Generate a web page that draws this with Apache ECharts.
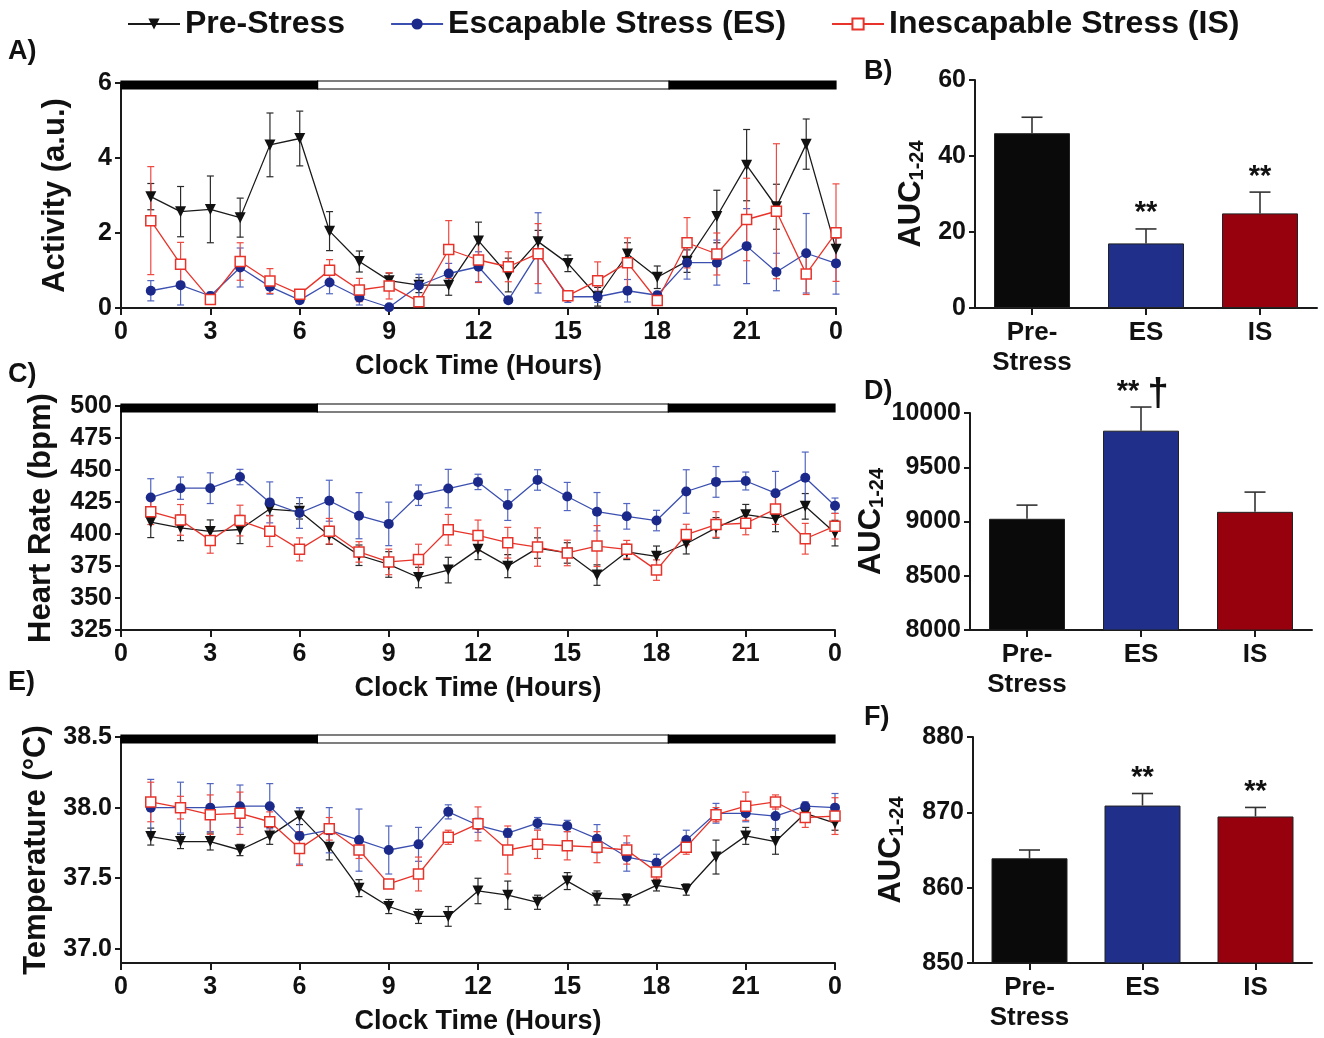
<!DOCTYPE html>
<html>
<head>
<meta charset="utf-8">
<script src="https://cdn.jsdelivr.net/npm/echarts@6/dist/echarts.min.js"></script>
<style>html,body{margin:0;padding:0;background:#fff;}#c{width:1324px;height:1038px;}</style>
</head>
<body>
<div id="c"></div>
<script>
// ---------- data ----------
const hours = [1,2,3,4,5,6,7,8,9,10,11,12,13,14,15,16,17,18,19,20,21,22,23,24];
const hourTicks = [0,3,6,9,12,15,18,21,0];
const lightPhases = [[0,6.6,1],[6.6,18.4,0],[18.4,24,1]]; // [start, end, dark]

const actPre    = [2.97,2.57,2.63,2.41,4.35,4.52,2.05,1.24,0.73,0.61,0.61,1.79,0.88,1.77,1.19,0.30,1.44,0.82,1.25,2.44,3.81,2.70,4.37,1.57];
const actPreErr = [0.35,0.67,0.89,0.52,0.85,0.73,0.52,0.28,0.20,0.20,0.27,0.50,0.45,0.30,0.22,0.25,0.30,0.30,0.30,0.70,0.95,0.60,0.67,0.30];
const actES     = [0.46,0.61,0.32,1.08,0.57,0.21,0.68,0.28,0.02,0.60,0.92,1.10,0.21,1.47,0.30,0.30,0.46,0.34,1.21,1.21,1.65,0.96,1.46,1.19];
const actESErr  = [0.27,0.53,0.10,0.52,0.20,0.08,0.30,0.20,0.05,0.30,0.27,0.40,0.08,1.07,0.15,0.15,0.30,0.10,0.44,0.60,1.00,0.50,1.06,0.82];
const actIS     = [2.33,1.17,0.23,1.24,0.72,0.37,1.01,0.48,0.59,0.17,1.56,1.28,1.10,1.45,0.33,0.73,1.21,0.20,1.74,1.44,2.36,2.58,0.91,2.01];
const actISErr  = [1.44,0.58,0.10,0.50,0.33,0.10,0.28,0.31,0.35,0.10,0.77,0.60,0.40,0.80,0.10,0.50,0.66,0.10,0.67,0.56,1.10,1.80,0.55,1.30];

const hrPre    = [409.2,404.8,402.0,403.5,419.5,417.7,398.9,383.4,376.2,366.0,371.8,388.0,374.9,389.0,385.2,367.9,386.0,382.6,392.4,404.8,415.1,411.8,421.6,400.7];
const hrPreErr = [12,10,9,11,5,6,7,8,10,8,10,8,9,8,8,8,6,8,8,8,8,10,10,10];
const hrES     = [428.5,435.8,435.8,444.5,424.7,416.4,426.0,414.3,407.9,430.3,435.5,440.7,422.6,442.2,429.3,417.4,413.8,410.5,433.2,440.7,441.4,431.9,444.0,422.1];
const hrESErr  = [14.7,8.7,12,6,16,12,16,18,17,8,15,6,12,8,11,15,10,8,17,12,7,17,20,6];
const hrIS     = [417.4,411.0,395.0,410.5,402.2,388.0,402.2,386.0,378.2,380.0,403.3,398.9,393.2,389.8,385.2,390.6,388.0,371.8,399.6,407.4,408.4,419.5,396.3,406.1];
const hrISErr  = [10,12,10,12,12,9,10,8,10,12,12,12,12,15,10,16,7,8,8,10,9,12,12,10];

const tPre    = [37.795,37.76,37.76,37.70,37.80,37.94,37.72,37.43,37.30,37.23,37.23,37.41,37.38,37.33,37.48,37.36,37.35,37.45,37.42,37.65,37.80,37.76,37.96,37.89];
const tPreErr = [0.06,0.05,0.06,0.04,0.06,0.06,0.09,0.06,0.05,0.05,0.07,0.09,0.10,0.05,0.06,0.05,0.04,0.04,0.04,0.12,0.06,0.09,0.03,0.05];
const tES     = [38.00,38.00,38.00,38.01,38.01,37.80,37.84,37.77,37.70,37.74,37.97,37.875,37.82,37.89,37.87,37.78,37.65,37.61,37.77,37.96,37.96,37.94,38.01,38.00];
const tESErr  = [0.20,0.18,0.17,0.15,0.16,0.20,0.16,0.22,0.17,0.12,0.05,0.05,0.03,0.04,0.04,0.10,0.10,0.06,0.07,0.07,0.06,0.10,0.03,0.10];
const tIS     = [38.04,38.00,37.95,37.96,37.90,37.71,37.85,37.70,37.46,37.53,37.79,37.885,37.70,37.74,37.73,37.72,37.70,37.545,37.72,37.95,38.01,38.04,37.93,37.94];
const tISErr  = [0.14,0.08,0.14,0.15,0.07,0.12,0.08,0.06,0.03,0.12,0.05,0.12,0.17,0.10,0.10,0.11,0.10,0.05,0.05,0.05,0.10,0.05,0.07,0.13];
const tempTicks = [37.0,37.5,38.0,38.5];

const groups = ['Pre-\nStress','ES','IS'];
const aucAct = [46.0,17.0,24.9];
const aucActErr = [4.2,3.8,5.6];
const aucHR = [9025,9837,9089];
const aucHRErr = [126,218,182];
const aucTemp = [863.9,870.9,869.45];
const aucTempErr = [1.1,1.6,1.2];
const sigAct = ['','**','**'];
const sigHR = ['','**',''];
const daggerHR = ['','†',''];
const sigTemp = ['','**','**'];

const seriesNames = ['Pre-Stress','Escapable Stress (ES)','Inescapable Stress (IS)'];

// ---------- styles ----------
const FONT = '"Liberation Sans", Arial, Helvetica, sans-serif';
const TXT = '#111';
const AX = '#1a1a1a';
const lineColors = {pre:'#1a1a1a', es:'#3b4fb0', is:'#e8332a'};
const errColors = {pre:'#2a2a2a', es:'#5266c0', is:'#ee4a42'};
const barColors = ['#0a0a0a','#1f2f8a','#97000d'];

const chart = echarts.init(document.getElementById('c'), null, {renderer:'canvas'});

function errRender(color, capW, lw, oneSided) {
  return function (params, api) {
    const x = api.value(0), y = api.value(1), e = api.value(2);
    const top = api.coord([x, y + e]);
    const bot = oneSided ? api.coord([x, y]) : api.coord([x, y - e]);
    const st = {stroke: color, lineWidth: lw};
    const ch = [
      {type:'line', shape:{x1:top[0], y1:top[1], x2:bot[0], y2:bot[1]}, style:st},
      {type:'line', shape:{x1:top[0]-capW/2, y1:top[1], x2:top[0]+capW/2, y2:top[1]}, style:st}
    ];
    if (!oneSided) ch.push({type:'line', shape:{x1:bot[0]-capW/2, y1:bot[1], x2:bot[0]+capW/2, y2:bot[1]}, style:st});
    return {type:'group', children: ch};
  };
}

function lightRender(ymax) {
  return function (params, api) {
    const s = api.coord([api.value(0), ymax]);
    const e = api.coord([api.value(1), ymax]);
    return {type:'rect', shape:{x:s[0], y:s[1]-2, width:e[0]-s[0], height:8},
      style:{fill: api.value(2) ? '#000' : '#fff', stroke:'#000', lineWidth:1.2}};
  };
}

const grids = [
  {left:121, top:83, width:715, height:225},
  {left:121, top:406, width:714, height:224},
  {left:121, top:737, width:714, height:226},
  {left:975, top:80, width:342, height:228},
  {left:970, top:413, width:342, height:217},
  {left:973, top:737, width:339, height:226}
];

const axisLineStyle = {show:true, lineStyle:{color:AX, width:2}};
const tickLabel = {color:TXT, fontSize:25, fontWeight:'bold', fontFamily:FONT};

const xAxes = [];
const yAxes = [];
for (let i = 0; i < 3; i++) {
  xAxes.push({
    type:'value', gridIndex:i, min:0, max:24, interval:3,
    axisLine:axisLineStyle, axisTick:{show:true, length:7, lineStyle:{color:AX, width:2}},
    splitLine:{show:false},
    axisLabel:Object.assign({margin:12, formatter: v => String(hourTicks[Math.round(v/3)])}, tickLabel),
    name:'Clock Time (Hours)', nameLocation:'middle', nameGap:45,
    nameTextStyle:{color:TXT, fontSize:27, fontWeight:'bold', fontFamily:FONT}
  });
}
const yTitleStyle = {color:TXT, fontSize:31, fontWeight:'bold', fontFamily:FONT};
yAxes.push({type:'value', gridIndex:0, min:0, max:6, interval:2, axisLine:axisLineStyle,
  axisTick:{show:true, length:6, lineStyle:{color:AX, width:2}}, splitLine:{show:false},
  axisLabel:Object.assign({margin:9}, tickLabel),
  name:'Activity (a.u.)', nameLocation:'middle', nameGap:50, nameTextStyle:yTitleStyle});
yAxes.push({type:'value', gridIndex:1, min:325, max:500, interval:25, axisLine:axisLineStyle,
  axisTick:{show:true, length:6, lineStyle:{color:AX, width:2}}, splitLine:{show:false},
  axisLabel:Object.assign({margin:9}, tickLabel),
  name:'Heart Rate (bpm)', nameLocation:'middle', nameGap:64, nameTextStyle:yTitleStyle});
yAxes.push({type:'value', gridIndex:2, min:36.9, max:38.5, axisLine:axisLineStyle,
  axisTick:{show:true, length:6, customValues:tempTicks, lineStyle:{color:AX, width:2}}, splitLine:{show:false},
  axisLabel:Object.assign({margin:9, customValues:tempTicks, formatter: v => v.toFixed(1)}, tickLabel),
  name:'Temperature (°C)', nameLocation:'middle', nameGap:60, nameTextStyle:yTitleStyle});

const aucName = '{m|AUC}{s|1-24}';
const aucRich = {
  m:{fontSize:31, fontWeight:'bold', fontFamily:FONT, color:TXT},
  s:{fontSize:20, fontWeight:'bold', fontFamily:FONT, color:TXT, verticalAlign:'bottom', padding:[12,0,0,0]}
};
const barDefs = [
  {min:0, max:60, interval:20, gap:48},
  {min:8000, max:10000, interval:500, gap:70},
  {min:850, max:880, interval:10, gap:66}
];
barDefs.forEach((d, k) => {
  const gi = 3 + k;
  xAxes.push({type:'category', gridIndex:gi, data:groups,
    axisLine:axisLineStyle, axisTick:{show:true, alignWithLabel:true, length:7, lineStyle:{color:AX, width:2}},
    axisLabel:Object.assign({margin:10, lineHeight:30, fontSize:26}, {color:TXT, fontWeight:'bold', fontFamily:FONT})});
  yAxes.push({type:'value', gridIndex:gi, min:d.min, max:d.max, interval:d.interval,
    axisLine:axisLineStyle, axisTick:{show:true, length:6, lineStyle:{color:AX, width:2}}, splitLine:{show:false},
    axisLabel:Object.assign({margin:9, formatter: v => String(v)}, tickLabel),
    name:aucName, nameLocation:'middle', nameGap:d.gap, nameTextStyle:{rich:aucRich}});
});

const series = [];
function linePanel(i, pre, preErr, es, esErr, is, isErr, ymax) {
  series.push({type:'custom', xAxisIndex:i, yAxisIndex:i, renderItem:lightRender(ymax),
    data:lightPhases, encode:{x:[0,1]}, z:1, silent:true});
  const defs = [
    {key:'pre', name:seriesNames[0], v:pre, e:preErr, symbol:'triangle', rot:180, size:11,
      item:{color:'#111'}},
    {key:'es', name:seriesNames[1], v:es, e:esErr, symbol:'circle', rot:0, size:10,
      item:{color:'#1b2a8a'}},
    {key:'is', name:seriesNames[2], v:is, e:isErr, symbol:'rect', rot:0, size:10,
      item:{color:'#fff', borderColor:'#e8332a', borderWidth:1.5}}
  ];
  defs.forEach(d => {
    series.push({type:'custom', xAxisIndex:i, yAxisIndex:i,
      renderItem:errRender(errColors[d.key], 7, 1.2, false),
      data:hours.map((h, k) => [h, d.v[k], d.e[k]]), encode:{x:0, y:1}, z:2, silent:true});
  });
  defs.forEach(d => {
    series.push({type:'line', name:d.name, xAxisIndex:i, yAxisIndex:i,
      data:hours.map((h, k) => [h, d.v[k]]),
      symbol:d.symbol, symbolRotate:d.rot, symbolSize:d.size, showAllSymbol:true,
      itemStyle:d.item, lineStyle:{color:lineColors[d.key], width:1.3}, z:3});
  });
}
linePanel(0, actPre, actPreErr, actES, actESErr, actIS, actISErr, 6);
linePanel(1, hrPre, hrPreErr, hrES, hrESErr, hrIS, hrISErr, 500);
linePanel(2, tPre, tPreErr, tES, tESErr, tIS, tISErr, 38.5);

function barPanel(gi, vals, errs, stars, dagger) {
  series.push({type:'bar', xAxisIndex:gi, yAxisIndex:gi, barWidth:76,
    data:vals.map((v, k) => ({value:v, itemStyle:{color:barColors[k], borderColor:'#222', borderWidth:1}})), z:2});
  series.push({type:'custom', xAxisIndex:gi, yAxisIndex:gi,
    renderItem:errRender('#333', 21, 1.6, true),
    data:vals.map((v, k) => [k, v, errs[k]]), encode:{x:0, y:1}, z:3, silent:true});
  series.push({type:'custom', xAxisIndex:gi, yAxisIndex:gi, z:4, silent:true,
    data:vals.map((v, k) => [k, v, errs[k]]), encode:{x:0, y:1},
    renderItem:function (params, api) {
      const k = params.dataIndex;
      const p = api.coord([api.value(0), api.value(1) + api.value(2)]);
      const ch = [];
      const hasDag = dagger && dagger[k];
      if (stars[k]) ch.push({type:'text', x:p[0] + (hasDag ? -13 : 0), y:p[1] - 1,
        style:{text:stars[k], font:'bold 29px ' + FONT, fill:TXT, align:'center', verticalAlign:'bottom'}});
      if (hasDag) ch.push({type:'text', x:p[0] + 17, y:p[1] + 6,
        style:{text:dagger[k], font:'bold 38px ' + FONT, fill:TXT, align:'center', verticalAlign:'bottom'}});
      return {type:'group', children:ch};
    }});
}
barPanel(3, aucAct, aucActErr, sigAct, null);
barPanel(4, aucHR, aucHRErr, sigHR, daggerHR);
barPanel(5, aucTemp, aucTempErr, sigTemp, null);

const panelLabel = (t, x, y) => ({type:'text', left:x, top:y,
  style:{text:t, font:'bold 27px ' + FONT, fill:TXT}});

chart.setOption({
  animation:false,
  backgroundColor:'#fff',
  textStyle:{fontFamily:FONT},
  legend:{
    data:seriesNames, top:3, left:122, itemWidth:52, itemHeight:14, itemGap:45,
    textStyle:{fontSize:32, fontWeight:'bold', fontFamily:FONT, color:TXT}
  },
  grid:grids,
  xAxis:xAxes,
  yAxis:yAxes,
  series:series,
  graphic:[
    panelLabel('A)', 8, 38),
    panelLabel('C)', 8, 361),
    panelLabel('E)', 8, 669),
    panelLabel('B)', 864, 58),
    panelLabel('D)', 864, 378),
    panelLabel('F)', 864, 704)
  ]
});
</script>
</body>
</html>
